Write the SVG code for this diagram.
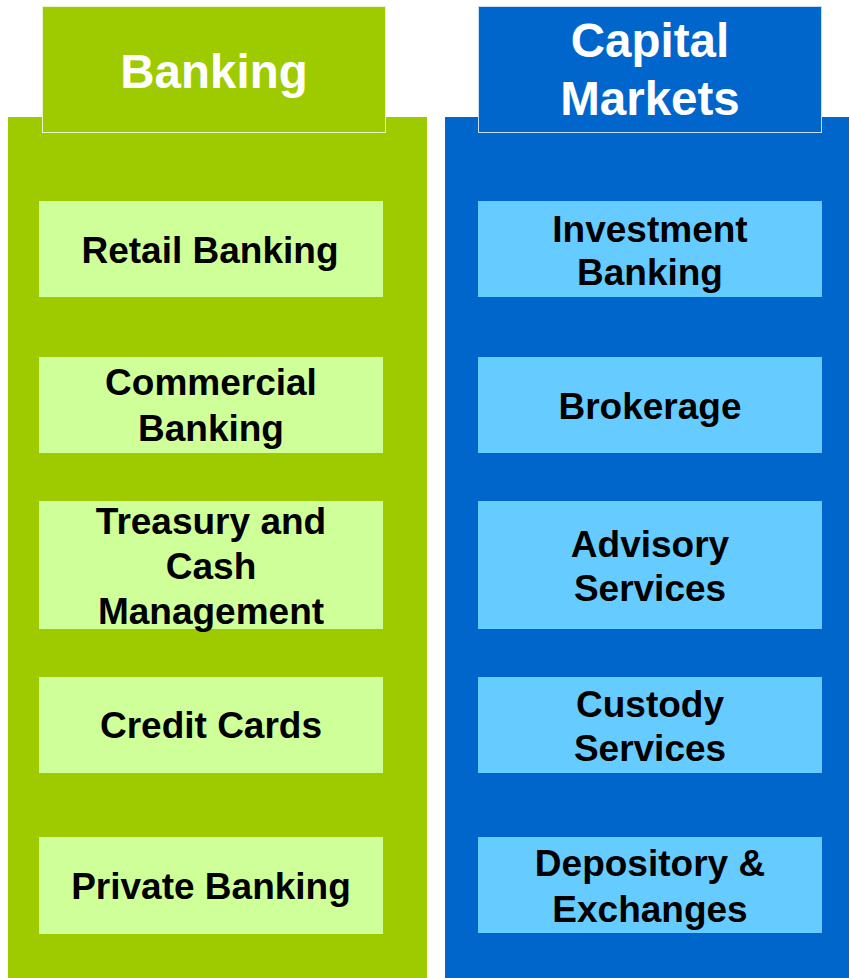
<svg xmlns="http://www.w3.org/2000/svg" width="849" height="978" viewBox="0 0 849 978">
  <style>
    .col-green { fill: #9ECB00; }
    .col-blue { fill: #0066CC; }
    .head-green { fill: #9ECB00; stroke: #EAF5C8; stroke-width: 1; }
    .head-blue { fill: #0066CC; stroke: #C8DDF2; stroke-width: 1; }
    .item-green { fill: #CFFF99; }
    .item-blue { fill: #66CCFF; }
    .head-text { font-family: "Liberation Sans", Arial, sans-serif; font-weight: bold; font-size: 47.5px; fill: #FFFFFF; text-anchor: middle; }
    .item-text { font-family: "Liberation Sans", Arial, sans-serif; font-weight: bold; font-size: 37px; fill: #000000; text-anchor: middle; }
  </style>

  <rect x="0" y="0" width="849" height="978" fill="#FFFFFF"/>

  <!-- Banking column -->
  <g id="banking-column">
    <rect class="col-green" x="8" y="117" width="419" height="861"/>
  </g>
  <g id="banking-header">
    <rect class="head-green" x="42.5" y="6.5" width="343" height="126"/>
    <text class="head-text" x="214" y="88">Banking</text>
  </g>
  <g id="retail-banking">
    <rect class="item-green" x="39" y="201" width="344" height="96"/>
    <text class="item-text" x="210" y="263">Retail Banking</text>
  </g>
  <g id="commercial-banking">
    <rect class="item-green" x="39" y="357" width="344" height="96"/>
    <text class="item-text" x="211" y="395">Commercial</text>
    <text class="item-text" x="211" y="441">Banking</text>
  </g>
  <g id="treasury-cash-management">
    <rect class="item-green" x="39" y="501" width="344" height="128"/>
    <text class="item-text" x="211" y="534">Treasury and</text>
    <text class="item-text" x="211" y="579">Cash</text>
    <text class="item-text" x="211" y="624">Management</text>
  </g>
  <g id="credit-cards">
    <rect class="item-green" x="39" y="677" width="344" height="96"/>
    <text class="item-text" x="211" y="738">Credit Cards</text>
  </g>
  <g id="private-banking">
    <rect class="item-green" x="39" y="837" width="344" height="97"/>
    <text class="item-text" x="211" y="899">Private Banking</text>
  </g>

  <!-- Capital Markets column -->
  <g id="capital-markets-column">
    <rect class="col-blue" x="445" y="117" width="404" height="861"/>
  </g>
  <g id="capital-markets-header">
    <rect class="head-blue" x="478.5" y="6.5" width="343" height="126"/>
    <text class="head-text" x="650" y="57">Capital</text>
    <text class="head-text" x="650" y="115">Markets</text>
  </g>
  <g id="investment-banking">
    <rect class="item-blue" x="478" y="201" width="344" height="96"/>
    <text class="item-text" x="650" y="242">Investment</text>
    <text class="item-text" x="650" y="285">Banking</text>
  </g>
  <g id="brokerage">
    <rect class="item-blue" x="478" y="357" width="344" height="96"/>
    <text class="item-text" x="650" y="419">Brokerage</text>
  </g>
  <g id="advisory-services">
    <rect class="item-blue" x="478" y="501" width="344" height="128"/>
    <text class="item-text" x="650" y="557">Advisory</text>
    <text class="item-text" x="650" y="601">Services</text>
  </g>
  <g id="custody-services">
    <rect class="item-blue" x="478" y="677" width="344" height="96"/>
    <text class="item-text" x="650" y="717">Custody</text>
    <text class="item-text" x="650" y="761">Services</text>
  </g>
  <g id="depository-exchanges">
    <rect class="item-blue" x="478" y="837" width="344" height="96"/>
    <text class="item-text" x="650" y="876">Depository &amp;</text>
    <text class="item-text" x="650" y="922">Exchanges</text>
  </g>

  <!-- no connectors between the boxes -->
  <g id="connectors"/>
</svg>
